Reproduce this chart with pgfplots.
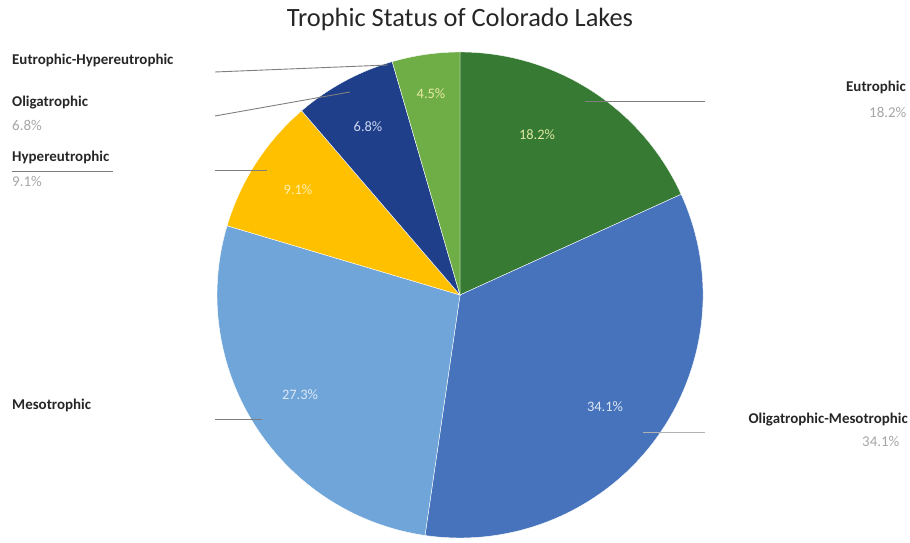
\documentclass[border=0pt]{standalone}
\usepackage{pgfplots}
\usepackage{pgfplotstable}
\pgfplotsset{compat=1.18}
\usepackage{fontspec}
\setmainfont{Carlito}
\definecolor{cEu}{HTML}{367A33}
\definecolor{cOM}{HTML}{4673BB}
\definecolor{cMe}{HTML}{6FA5D8}
\definecolor{cHy}{HTML}{FFC000}
\definecolor{cOl}{HTML}{1F3F8A}
\definecolor{cEH}{HTML}{6FAD47}
\definecolor{lbl}{HTML}{262626}
\definecolor{gry}{HTML}{A6A6A6}
\definecolor{lead}{HTML}{7F7F7F}
\pgfplotstableread{
pct
18.2
34.1
27.3
9.1
6.8
4.5
}\pietable
\begin{document}
\begin{tikzpicture}
% cumulative angles (clockwise from the top)
\def\A{90}
\foreach \i/\nm in {0/a,1/b,2/c,3/d,4/e,5/f}{
  \pgfplotstablegetelem{\i}{pct}\of\pietable
  \pgfmathsetmacro\tmp{\A-3.6*\pgfplotsretval}
  \xdef\A{\tmp}
  \expandafter\xdef\csname end\nm\endcsname{\tmp}
}
\begin{axis}[
  x=1bp, y=1bp, xmin=0, xmax=910, ymin=0, ymax=537,
  hide axis, clip=false, scale only axis,
]
\path (axis cs:0,0) rectangle (axis cs:910,537);
% wedges
\addplot[fill=cEu, draw=white, line width=0.4bp] coordinates {(460,242)} -- ++(90:243bp) arc[start angle=90, end angle=\enda, radius=243bp] -- cycle;
\addplot[fill=cOM, draw=white, line width=0.4bp] coordinates {(460,242)} -- ++(\enda:243bp) arc[start angle=\enda, end angle=\endb, radius=243bp] -- cycle;
\addplot[fill=cMe, draw=white, line width=0.4bp] coordinates {(460,242)} -- ++(\endb:243bp) arc[start angle=\endb, end angle=\endc, radius=243bp] -- cycle;
\addplot[fill=cHy, draw=white, line width=0.4bp] coordinates {(460,242)} -- ++(\endc:243bp) arc[start angle=\endc, end angle=\endd, radius=243bp] -- cycle;
\addplot[fill=cOl, draw=white, line width=0.4bp] coordinates {(460,242)} -- ++(\endd:243bp) arc[start angle=\endd, end angle=\ende, radius=243bp] -- cycle;
\addplot[fill=cEH, draw=white, line width=0.4bp] coordinates {(460,242)} -- ++(\ende:243bp) arc[start angle=\ende, end angle=\endf, radius=243bp] -- cycle;
% leader lines
\addplot[lead, line width=0.9bp] coordinates {(215,465) (388,472)};
\addplot[lead, line width=0.9bp] coordinates {(215,421) (350,445)};
\addplot[lead, line width=0.9bp] coordinates {(215,367) (267,367)};
\addplot[lead, line width=0.9bp] coordinates {(12,366) (113,366)};
\addplot[lead, line width=0.9bp] coordinates {(215,118) (262,118)};
\addplot[lead, line width=0.9bp] coordinates {(585,436) (705,436)};
\addplot[lead!60, line width=0.9bp] coordinates {(643,105) (705,105)};
% title
\node[font=\fontsize{26.5}{30}\selectfont, text=lbl] at (axis cs:460,518) {Trophic Status of Colorado Lakes};
% outside labels
\tikzset{lb/.style={font=\fontsize{15}{17}\selectfont\bfseries, text=lbl, inner sep=0pt}, gl/.style={font=\fontsize{15}{17}\selectfont, text=gry, inner sep=0pt}}
\node[lb, anchor=west] at (axis cs:12,477) {Eutrophic-Hypereutrophic};
\node[lb, anchor=west] at (axis cs:12,434) {Oligatrophic};
\node[gl, anchor=west] at (axis cs:12,412) {6.8\%};
\node[lb, anchor=west] at (axis cs:12,380) {Hypereutrophic};
\node[gl, anchor=west] at (axis cs:12,356) {9.1\%};
\node[lb, anchor=west] at (axis cs:12,132) {Mesotrophic};
\node[lb, anchor=east] at (axis cs:906,450) {Eutrophic};
\node[gl, anchor=west] at (axis cs:869,425) {18.2\%};
\node[lb, anchor=east] at (axis cs:908,117) {Oligatrophic-Mesotrophic};
\node[gl, anchor=west] at (axis cs:862,96) {34.1\%};
% inside labels
\tikzset{il/.style={font=\fontsize{14.5}{17}\selectfont, inner sep=0pt}}
\node[il, text={rgb,255:red,220;green,232;blue,160}] at (axis cs:537,402) {18.2\%};
\node[il, text={rgb,255:red,220;green,230;blue,245}] at (axis cs:605,130) {34.1\%};
\node[il, text={rgb,255:red,220;green,232;blue,245}] at (axis cs:300,142) {27.3\%};
\node[il, text={rgb,255:red,255;green,240;blue,180}] at (axis cs:298,347) {9.1\%};
\node[il, text={rgb,255:red,205;green,215;blue,240}] at (axis cs:368,410) {6.8\%};
\node[il, text={rgb,255:red,232;green,235;blue,160}] at (axis cs:431,443) {4.5\%};
\end{axis}
\end{tikzpicture}
\end{document}
